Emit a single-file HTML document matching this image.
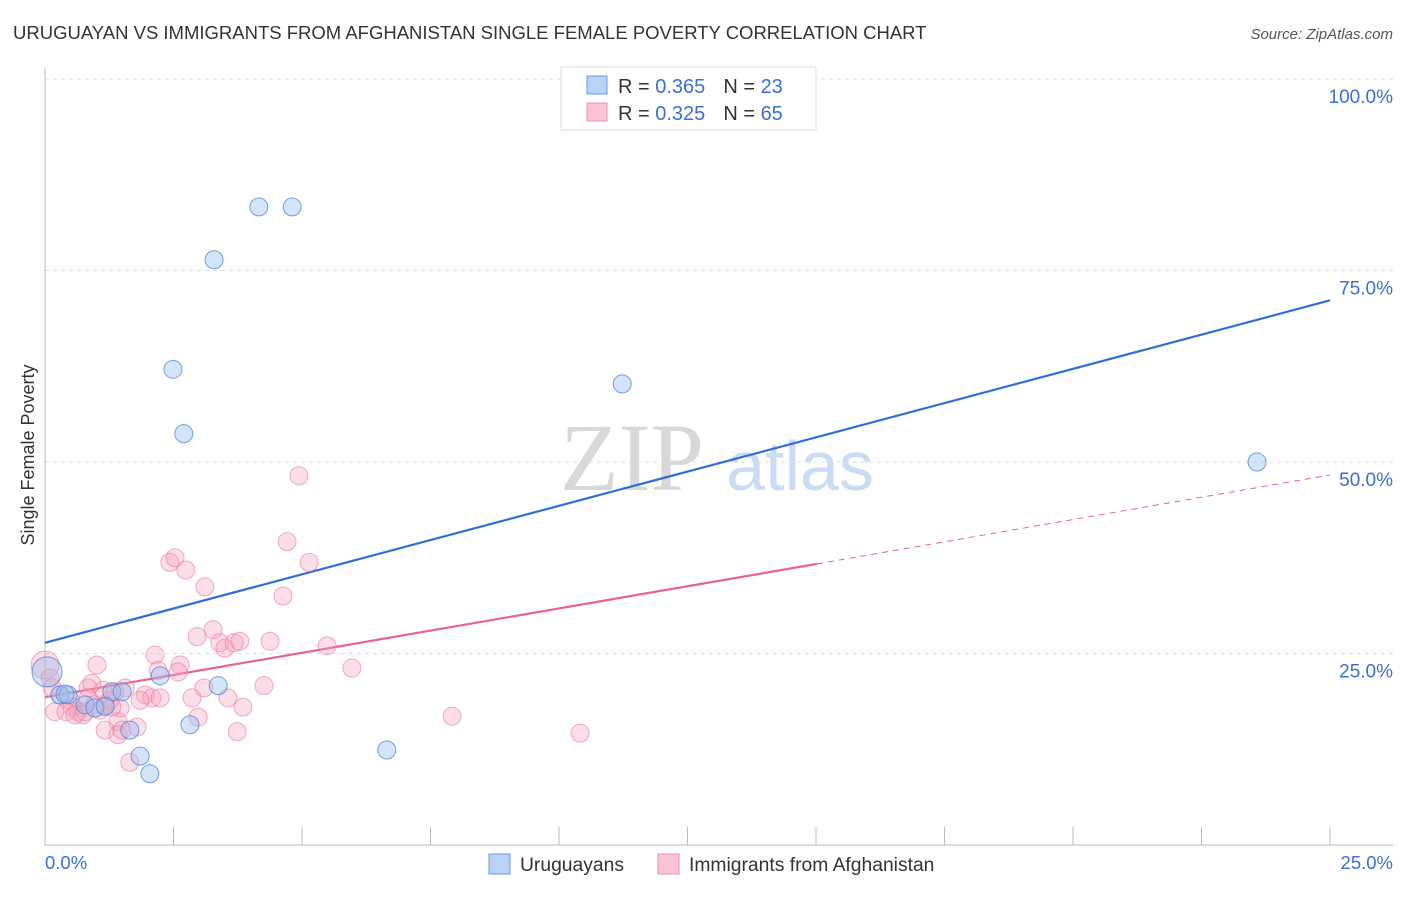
<!DOCTYPE html>
<html><head><meta charset="utf-8"><style>
body{margin:0;background:#fff;font-family:"Liberation Sans",sans-serif}
</style></head><body>
<svg width="1406" height="892" xmlns="http://www.w3.org/2000/svg" font-family="Liberation Sans, sans-serif">
<text x="13" y="39" font-size="18.5" fill="#333">URUGUAYAN VS IMMIGRANTS FROM AFGHANISTAN SINGLE FEMALE POVERTY CORRELATION CHART</text>
<text x="1393" y="39" font-size="15" fill="#555" font-style="italic" text-anchor="end">Source: ZipAtlas.com</text>
<g>
<text x="632" y="490" font-size="96" font-family="Liberation Serif, serif" fill="#d8d8d8" text-anchor="middle">ZIP</text>
<text x="800" y="490" font-size="70" fill="#c9dcf3" text-anchor="middle">atlas</text>
</g>
<g id="grid"></g>
<line x1="45" y1="68" x2="45" y2="845" stroke="#bbb"/>
<line x1="45" y1="845" x2="1393" y2="845" stroke="#bbb"/>
<text x="45" y="869" font-size="18.5" fill="#3a6fd8">0.0%</text>
<text x="1393" y="869" font-size="18.5" fill="#3a6fd8" text-anchor="end">25.0%</text>
<text transform="translate(34,455) rotate(-90)" font-size="18" fill="#333" text-anchor="middle">Single Female Poverty</text>
<g id="lines"></g>
<g id="points"></g>
<g>
<rect x="561" y="67" width="255" height="63" fill="#fff" stroke="#ddd"/>
<rect x="587" y="76" width="20" height="18" fill="#b9d3f5" stroke="#6a9be0"/>
<rect x="587" y="103" width="20" height="18" fill="#fac4d4" stroke="#ee8fab"/>
<text x="618" y="93" font-size="20" fill="#333">R = <tspan fill="#3a6fd8">0.365</tspan><tspan dx="18">N = </tspan><tspan fill="#3a6fd8">23</tspan></text>
<text x="618" y="120" font-size="20" fill="#333">R = <tspan fill="#3a6fd8">0.325</tspan><tspan dx="18">N = </tspan><tspan fill="#3a6fd8">65</tspan></text>
</g>
<g>
<rect x="489" y="854" width="21" height="20" fill="#b9d3f5" stroke="#6a9be0"/>
<text x="520" y="871" font-size="19.3" fill="#333">Uruguayans</text>
<rect x="658" y="854" width="21" height="20" fill="#fac4d4" stroke="#ee8fab"/>
<text x="689" y="871" font-size="19.3" fill="#333">Immigrants from Afghanistan</text>
</g>
</svg>
<script>
const yTicks=[25,50,75,100];
const xTickCount=10;
const blueX=[0.04,0.29,0.45,0.78,0.97,1.30,1.50,1.65,1.85,2.04,2.24,2.49,2.70,2.82,3.29,3.37,4.16,4.81,6.65,11.23,23.58,1.17,0.39];
const blueY=[22.6,19.6,19.6,18.3,17.9,20.0,20.0,15.0,11.6,9.3,22.1,62.1,53.7,15.7,76.4,20.8,83.3,83.3,12.4,60.2,50.0,18.1,19.7];
const pinkX=[0.0,0.10,0.19,0.29,0.49,0.53,0.64,0.78,0.84,0.91,1.01,1.07,1.17,1.26,1.36,1.46,1.42,1.56,1.17,1.42,1.50,1.65,1.79,1.95,2.08,2.14,2.24,2.20,2.43,2.53,2.63,2.59,2.74,2.86,2.96,2.98,3.09,3.11,3.27,3.40,3.50,3.56,3.68,3.74,3.79,3.85,4.26,4.38,4.63,4.71,4.94,5.14,5.49,5.97,7.92,10.41,0.74,0.84,0.97,1.85,0.41,0.58,0.14,1.30,1.13];
const pinkY=[23.5,21.8,17.4,19.6,18.9,18.0,17.4,17.4,20.5,21.1,23.5,17.6,18.3,18.9,20.0,17.9,16.1,20.5,15.0,14.4,15.0,10.8,15.4,19.6,19.2,24.8,19.2,22.8,36.9,37.5,23.5,22.6,35.9,19.2,27.2,16.7,20.5,33.7,28.1,26.4,25.7,19.2,26.4,14.8,26.6,18.0,20.8,26.6,32.5,39.6,48.2,36.9,26.0,23.1,16.8,14.6,17.0,19.2,18.3,18.9,17.4,17.0,20.5,18.0,20.2];
const blueTrend=[26.4,71.1];
const pinkTrend=[19.3,36.7,48.3];
const pinkSolidEnd=15.02;
const NS="http://www.w3.org/2000/svg";
const sx=v=>45+v/25*1285;
const sy=v=>845-v*7.66;
function mk(tag,attrs,parent){const e=document.createElementNS(NS,tag);for(const k in attrs)e.setAttribute(k,attrs[k]);parent.appendChild(e);return e;}
const grid=document.getElementById('grid');
yTicks.forEach(t=>{
 const l=mk('line',{x1:45,x2:1393,y1:sy(t),y2:sy(t),stroke:'#ddd','stroke-dasharray':'4,4'},grid);
 
 
 const tx=mk('text',{x:1393,y:sy(t)+24,'font-size':19,fill:'#3a6fd8','text-anchor':'end'},grid);
 tx.textContent=t.toFixed(1)+'%';
 
 
});
for(let i=1;i<=xTickCount;i++){
 const x=sx(i*2.5);
 const l=mk('line',{x1:x,x2:x,y1:827,y2:845,stroke:'#bbb'},grid);
 
 
}
const lines=document.getElementById('lines');
const bl=mk('line',{x1:sx(0),y1:sy(blueTrend[0]),x2:sx(25),y2:sy(blueTrend[1]),stroke:'#2f6fd6','stroke-width':2.2},lines);


const pl=mk('line',{x1:sx(0),y1:sy(pinkTrend[0]),x2:sx(pinkSolidEnd),y2:sy(pinkTrend[1]),stroke:'#e8648e','stroke-width':2.2},lines);


const pd=mk('line',{x1:sx(pinkSolidEnd),y1:sy(pinkTrend[1]),x2:sx(25),y2:sy(pinkTrend[2]),stroke:'#e8648e','stroke-width':1,'stroke-dasharray':'6,5'},lines);


const pts=document.getElementById('points');
pinkX.forEach((x,i)=>{
 const c=mk('circle',{cx:sx(x),cy:sy(pinkY[i]),r:i===0?14:9,fill:'rgba(245,160,185,0.35)',stroke:'rgba(232,120,155,0.6)','stroke-width':1},pts);
 
 
});
blueX.forEach((x,i)=>{
 const c=mk('circle',{cx:sx(x),cy:sy(blueY[i]),r:i===0?15:9,fill:'rgba(150,190,240,0.4)',stroke:'rgba(70,130,220,0.75)','stroke-width':1},pts);
 
 
});
</script>
</body></html>
